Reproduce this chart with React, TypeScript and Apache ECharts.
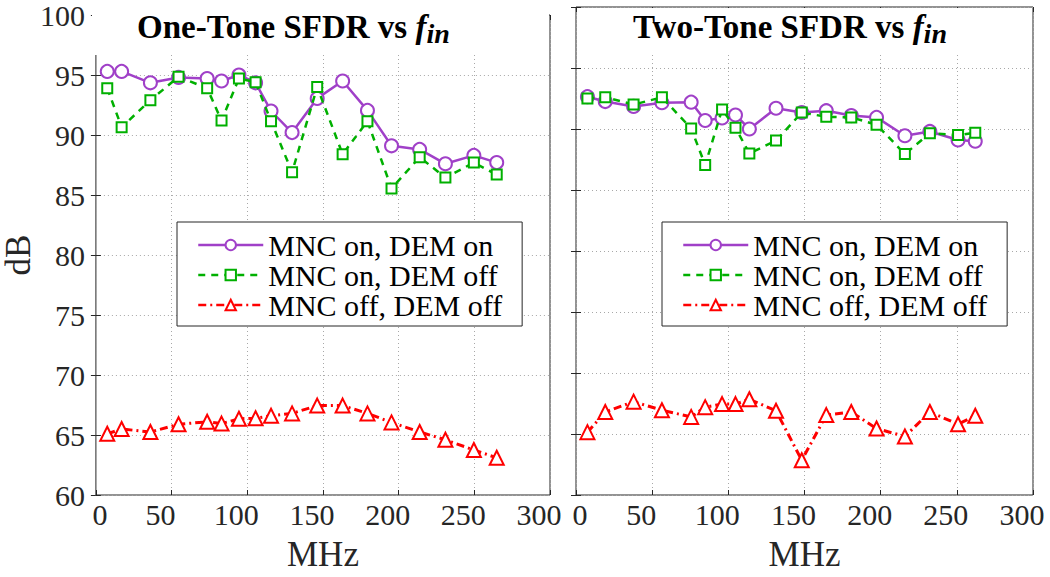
import React, { useEffect, useRef } from "react";
import * as echarts from "echarts";

// ---------- data ----------
const seriesNames = ["MNC on, DEM on", "MNC on, DEM off", "MNC off, DEM off"];
const xTicks = [0, 50, 100, 150, 200, 250, 300];
const yTicks = [60, 65, 70, 75, 80, 85, 90, 95, 100];

// One-Tone (left)
const oneToneFreq = [7.5, 17, 36, 54.6, 73.5, 83, 94.5, 105.5, 115.7, 129.6, 146.2, 163, 179.4, 195.3, 213.9, 230.9, 249.7, 264.8];
const oneToneOnOn = [95.3, 95.3, 94.35, 94.8, 94.7, 94.5, 95.0, 94.35, 92.0, 90.2, 93.05, 94.5, 92.05, 89.1, 88.8, 87.6, 88.3, 87.7];
const oneToneOnOff = [93.9, 90.65, 92.9, 94.85, 93.9, 91.2, 94.7, 94.4, 91.15, 86.9, 94.0, 88.4, 91.15, 85.55, 88.15, 86.45, 87.7, 86.7];
const oneToneOffOff = [65.1, 65.5, 65.25, 65.9, 66.1, 65.95, 66.35, 66.4, 66.6, 66.8, 67.45, 67.45, 66.8, 66.05, 65.25, 64.6, 63.75, 63.1];

// Two-Tone (right)
const twoToneFreq = [7.5, 19.2, 37.8, 56.4, 75.6, 84.8, 95.9, 104.7, 113.8, 131.3, 148.2, 164.3, 180.7, 197.3, 215.9, 232.3, 250.8, 262.1];
const twoToneOnOn = [92.65, 92.25, 91.85, 92.15, 92.2, 90.7, 90.9, 91.15, 90.0, 91.7, 91.35, 91.5, 91.1, 90.95, 89.45, 89.8, 89.1, 89.0];
const twoToneOnOff = [92.5, 92.6, 92.0, 92.6, 90.05, 87.05, 91.6, 90.1, 88.0, 89.05, 91.35, 91.0, 90.95, 90.35, 87.95, 89.65, 89.5, 89.7];
const twoToneOffOff = [65.15, 66.8, 67.65, 66.95, 66.4, 67.2, 67.45, 67.45, 67.85, 66.9, 62.85, 66.55, 66.8, 65.45, 64.8, 66.8, 65.8, 66.5];

// ---------- styles ----------
const FONT = "Liberation Serif";
const AXIS_COLOR = "#262626";
const PURPLE = "#a040c8";
const GREEN = "#00b000";
const RED = "#ff0000";

const zip = (xs: number[], ys: number[]) => xs.map((x, i) => [x, ys[i]]);

export default function App() {
  const ref = useRef<HTMLDivElement>(null);

  useEffect(() => {
    const chart = echarts.init(ref.current!, null, { renderer: "svg" });

    const grids = [
      { left: 91, top: 7, width: 459, height: 488 },
      { left: 576, top: 7, width: 457, height: 488 },
    ];

    const xMain = (gi: number) => ({
      type: "value",
      gridIndex: gi,
      min: xTicks[0],
      max: xTicks[xTicks.length - 1],
      interval: 50,
      position: "bottom",
      axisLine: { show: false },
      axisTick: { inside: true, length: 5, lineStyle: { color: AXIS_COLOR } },
      axisLabel: {
        margin: 4,
        color: AXIS_COLOR,
        fontFamily: FONT,
        fontSize: 30,
        formatter: (v: number) => (v === 0 ? `{z|${v}}` : `{n|${v}}`),
        rich: {
          z: { fontFamily: FONT, fontSize: 30, color: AXIS_COLOR, padding: [0, 0, 0, 8] },
          n: { fontFamily: FONT, fontSize: 30, color: AXIS_COLOR, padding: [0, 22, 0, 0] },
        },
      },
      splitLine: { show: true, lineStyle: { color: "#a8a8a8", type: [1, 3], width: 1 } },
      name: "MHz",
      nameLocation: "middle",
      nameGap: 42,
      nameTextStyle: { fontFamily: FONT, fontSize: 35, color: AXIS_COLOR },
    });
    const xTop = (gi: number) => ({
      type: "value",
      gridIndex: gi,
      min: 0,
      max: 300,
      interval: 50,
      position: "top",
      axisLine: { show: false },
      axisTick: { inside: true, length: 5, lineStyle: { color: AXIS_COLOR } },
      axisLabel: { show: false },
      splitLine: { show: false },
    });
    const yMain = (gi: number, labels: boolean) => ({
      type: "value",
      gridIndex: gi,
      min: yTicks[0],
      max: yTicks[yTicks.length - 1],
      interval: 5,
      position: "left",
      axisLine: { show: false },
      axisTick: { inside: true, length: 5, lineStyle: { color: AXIS_COLOR } },
      axisLabel: { show: labels, margin: 11, color: AXIS_COLOR, fontFamily: FONT, fontSize: 30 },
      splitLine: { show: true, lineStyle: { color: "#a8a8a8", type: [1, 3], width: 1 } },
      name: labels ? "dB" : "",
      nameLocation: "middle",
      nameGap: 52,
      nameTextStyle: { fontFamily: FONT, fontSize: 35, color: AXIS_COLOR },
    });
    const yRight = (gi: number) => ({
      type: "value",
      gridIndex: gi,
      min: 60,
      max: 100,
      interval: 5,
      position: "right",
      axisLine: { show: false },
      axisTick: { inside: true, length: 5, lineStyle: { color: AXIS_COLOR } },
      axisLabel: { show: false },
      splitLine: { show: false },
    });

    const mkSeries = (xi: number, freq: number[], onOn: number[], onOff: number[], offOff: number[]) => [
      {
        type: "line",
        name: seriesNames[0],
        xAxisIndex: xi,
        yAxisIndex: xi,
        data: zip(freq, onOn),
        symbol: "emptyCircle",
        symbolSize: 13,
        lineStyle: { color: PURPLE, width: 2.5, type: "solid" },
        itemStyle: { color: PURPLE, borderWidth: 2.5 },
        z: 3,
      },
      {
        type: "line",
        name: seriesNames[1],
        xAxisIndex: xi,
        yAxisIndex: xi,
        data: zip(freq, onOff),
        symbol: "emptyRect",
        symbolSize: 10,
        lineStyle: { color: GREEN, width: 2.5, type: [7, 6] },
        itemStyle: { color: GREEN, borderWidth: 2.5 },
        z: 4,
      },
      {
        type: "line",
        name: seriesNames[2],
        xAxisIndex: xi,
        yAxisIndex: xi,
        data: zip(freq, offOff),
        symbol: "emptyTriangle",
        symbolSize: 14,
        lineStyle: { color: RED, width: 3, type: [8, 4, 2, 4] },
        itemStyle: { color: RED, borderWidth: 3 },
        z: 5,
      },
    ];

    const legendBase = {
      orient: "vertical",
      data: seriesNames,
      top: 222,
      padding: [8, 20, 6, 20],
      itemGap: 0,
      itemWidth: 65,
      itemHeight: 13,
      borderColor: AXIS_COLOR,
      borderWidth: 1,
      borderRadius: 0,
      backgroundColor: "#ffffff",
      selectedMode: false,
      lineStyle: { width: 2.5 },
      itemStyle: { borderWidth: 2.5 },
      textStyle: { fontFamily: FONT, fontSize: 30, color: "#000", lineHeight: 29 },
    };

    const titleRich = {
      b: { fontFamily: FONT, fontSize: 33, fontWeight: "bold", color: "#000", lineHeight: 40 },
      f: { fontFamily: FONT, fontSize: 33, fontWeight: "bold", fontStyle: "italic", color: "#000", lineHeight: 40 },
      s: { fontFamily: FONT, fontSize: 28, fontWeight: "bold", fontStyle: "italic", color: "#000", lineHeight: 28, padding: [12, 0, 0, 0] },
    };

    const option = {
      animation: false,
      backgroundColor: "#ffffff",
      textStyle: { fontFamily: FONT },
      title: [
        { text: "{b|One-Tone SFDR vs }{f|f}{s|in}", left: 137, top: 7, padding: 0, textStyle: { fontFamily: FONT, rich: titleRich } },
        { text: "{b|Two-Tone SFDR vs }{f|f}{s|in}", left: 633, top: 7, padding: 0, textStyle: { fontFamily: FONT, rich: titleRich } },
      ],
      grid: grids.map((g) => ({ ...g, show: true, borderColor: AXIS_COLOR, borderWidth: 1, backgroundColor: "transparent" })),
      graphic: [
        { type: "rect", z: 3, shape: { x: 92, y: 8, width: 457, height: 47 }, style: { fill: "#ffffff" }, silent: true },
        { type: "rect", z: 3, shape: { x: 577, y: 8, width: 455, height: 47 }, style: { fill: "#ffffff" }, silent: true },
      ],
      legend: [
        { ...legendBase, left: 177 },
        { ...legendBase, left: 662 },
      ],
      xAxis: [xMain(0), xMain(1), xTop(0), xTop(1)],
      yAxis: [yMain(0, true), yMain(1, false), yRight(0), yRight(1)],
      series: [
        ...mkSeries(0, oneToneFreq, oneToneOnOn, oneToneOnOff, oneToneOffOff),
        ...mkSeries(1, twoToneFreq, twoToneOnOn, twoToneOnOff, twoToneOffOff),
      ],
    };

    chart.setOption(option as any);
    return () => chart.dispose();
  }, []);

  return (
    <div
      ref={ref}
      style={{ position: "fixed", left: 0, top: 0, width: 1050, height: 577, background: "#fff" }}
    />
  );
}
